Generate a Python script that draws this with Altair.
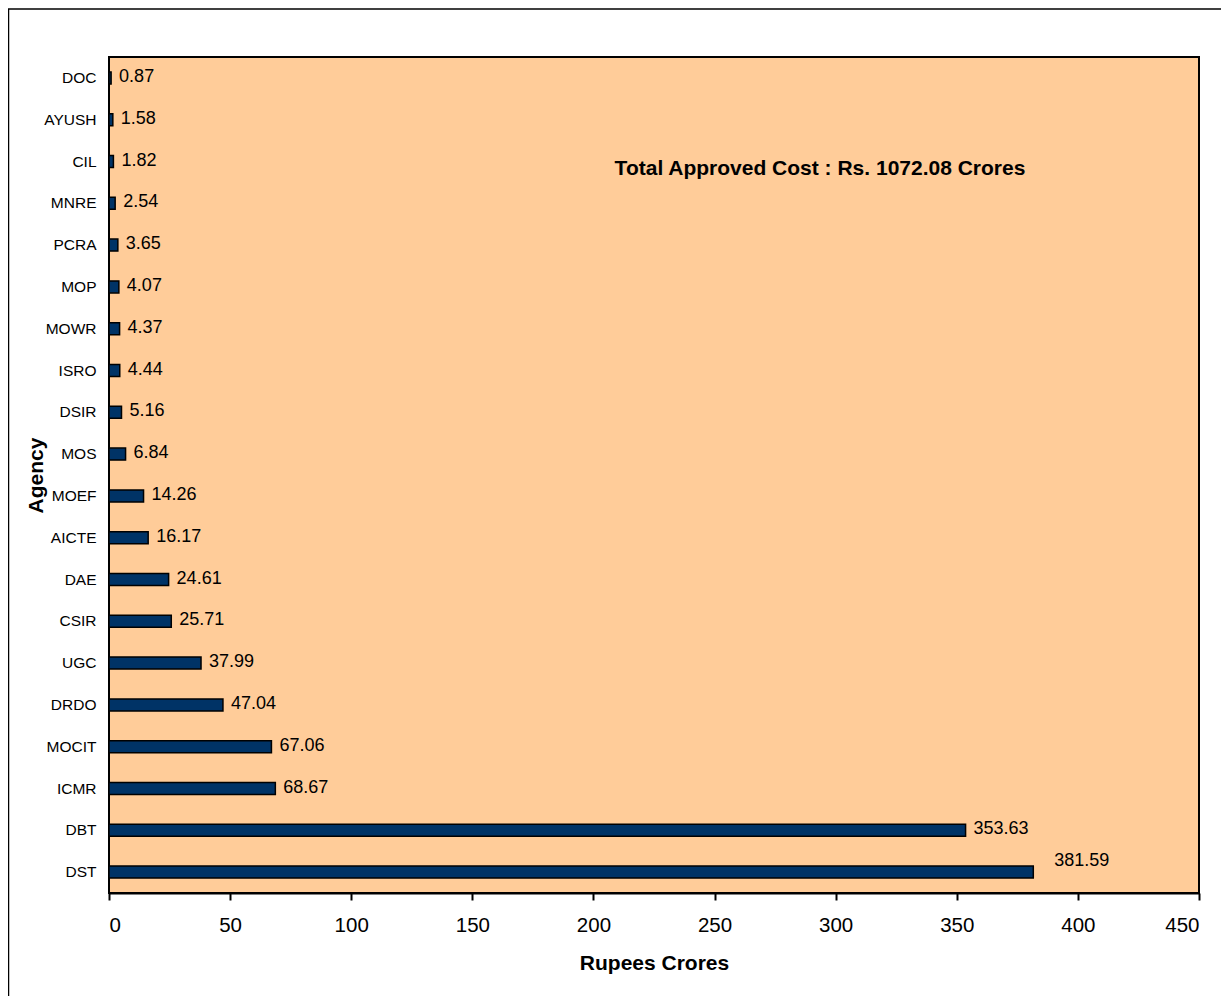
import altair as alt
import pandas as pd

agencies = ["DOC", "AYUSH", "CIL", "MNRE", "PCRA", "MOP", "MOWR", "ISRO", "DSIR", "MOS",
            "MOEF", "AICTE", "DAE", "CSIR", "UGC", "DRDO", "MOCIT", "ICMR", "DBT", "DST"]
costs = [0.87, 1.58, 1.82, 2.54, 3.65, 4.07, 4.37, 4.44, 5.16, 6.84,
         14.26, 16.17, 24.61, 25.71, 37.99, 47.04, 67.06, 68.67, 353.63, 381.59]
x_ticks = [0, 50, 100, 150, 200, 250, 300, 350, 400, 450]
note = "Total Approved Cost : Rs. 1072.08 Crores"

df = pd.DataFrame({"Agency": agencies, "Cost": costs})
FONT = "Liberation Sans"
W, H = 1090, 836

y_enc = alt.Y("Agency:N", sort=agencies,
              scale=alt.Scale(paddingInner=0, paddingOuter=0),
              axis=alt.Axis(title="Agency", labelFontSize=15.5, labelFont=FONT,
                            labelColor="black", tickSize=0, labelPadding=13,
                            domain=False, titleFont=FONT, titleFontSize=21,
                            titleFontWeight="bold", titleColor="black",
                            titleX=-73, titleY=H / 2, titleAngle=-90,
                            titleAlign="center", titleBaseline="middle"))
x_enc = alt.X("Cost:Q", scale=alt.Scale(domain=[0, 450], nice=False),
              axis=alt.Axis(title="Rupees Crores", values=x_ticks, grid=False,
                            labelFontSize=20.5, labelFont=FONT, labelColor="black",
                            tickSize=7, tickColor="black", tickWidth=2,
                            domainColor="black", domainWidth=2, labelPadding=15,
                            titleFont=FONT, titleFontSize=21, titleFontWeight="bold",
                            titleColor="black", titleY=70, titleBaseline="middle"))

base = alt.Chart(df)
bars = base.mark_bar(size=12, color="#003366", stroke="black", strokeWidth=1.5).encode(
    x=x_enc, y=y_enc)

labels = base.transform_filter(alt.datum.Agency != "DST").mark_text(
    align="left", baseline="middle", dx=8, dy=-1, font=FONT, fontSize=18, color="black"
).encode(x="Cost:Q", y=alt.Y("Agency:N", sort=agencies), text=alt.Text("Cost:Q", format=".2f"))

label_dst = base.transform_filter(alt.datum.Agency == "DST").mark_text(
    align="left", baseline="middle", dx=21, dy=-11, font=FONT, fontSize=18, color="black"
).encode(x="Cost:Q", y=alt.Y("Agency:N", sort=agencies), text=alt.Text("Cost:Q", format=".2f"))

one = alt.Chart(pd.DataFrame({"t": [note]}))
annot = one.mark_text(align="center", baseline="middle", font=FONT, fontSize=21,
                      fontWeight="bold", color="black").encode(
    x=alt.value(711), y=alt.value(112), text="t:N")

top_line = one.mark_rule(color="black", strokeWidth=1.5, clip=False).encode(
    x=alt.value(-101), x2=alt.value(W + 30), y=alt.value(-48))
left_line = one.mark_rule(color="black", strokeWidth=1.5, clip=False).encode(
    x=alt.value(-100.5), y=alt.value(-48), y2=alt.value(H + 110))

chart = alt.layer(bars, labels, label_dst, annot, top_line, left_line).properties(
    width=W, height=H,
    padding={"left": 101, "top": 49, "right": 22, "bottom": 103},
    autosize=alt.AutoSizeParams(type="none"),
    background="white",
).configure_view(fill="#FFCC99", stroke="black", strokeWidth=2)

chart.save("out.html", embed_options={"renderer": "svg", "actions": False})
